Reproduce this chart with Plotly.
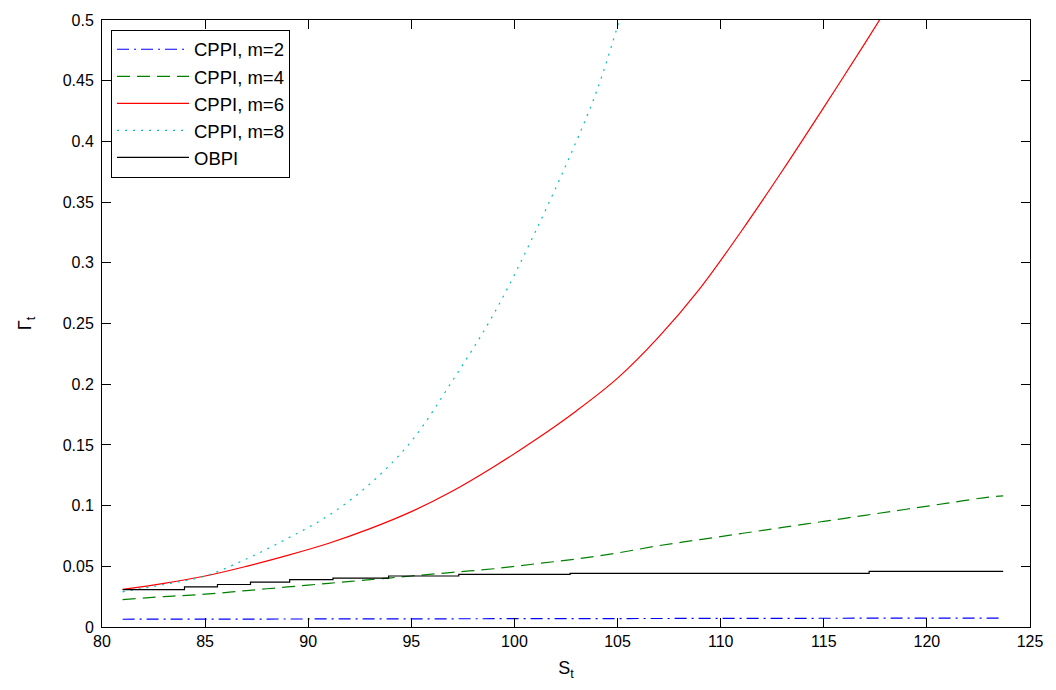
import plotly.graph_objects as go

# ---- data ----
x_m2 = [81, 90, 100, 110, 123.7]
y_m2 = [0.0064, 0.0065, 0.0068, 0.0071, 0.0074]

x_m4 = [81, 83, 85, 87, 89, 91, 93, 95, 97, 99, 101, 103, 105, 107, 109, 111,
        113, 115, 117, 119, 121, 123, 123.7]
y_m4 = [0.0225, 0.025, 0.027, 0.030, 0.033, 0.036, 0.039, 0.042, 0.045, 0.048,
        0.052, 0.056, 0.061, 0.067, 0.072, 0.077, 0.082, 0.087, 0.092, 0.097,
        0.102, 0.107, 0.108]

x_m6 = [81, 83, 85, 87, 89, 91, 93, 95, 97, 99, 101, 103, 105, 107, 109, 111,
        113, 115, 117, 118]
y_m6 = [0.031, 0.036, 0.042, 0.050, 0.059, 0.069, 0.081, 0.095, 0.112, 0.132,
        0.154, 0.178, 0.205, 0.239, 0.279, 0.326, 0.376, 0.428, 0.481, 0.508]

x_m8 = [81, 83, 85, 87, 89, 91, 93, 95, 97, 99, 101, 103, 104, 105, 105.5]
y_m8 = [0.029, 0.035, 0.042, 0.056, 0.073, 0.092, 0.118, 0.153, 0.203, 0.258,
        0.325, 0.400, 0.442, 0.495, 0.525]

x_obpi = [81, 84.0, 85.6, 87.2, 89.1, 91.2, 93.9, 97.3, 102.7, 117.2, 123.7]
y_obpi = [0.0308, 0.033, 0.035, 0.037, 0.039, 0.0403, 0.042, 0.0433, 0.0442,
          0.0458, 0.0458]

names = ["CPPI, m=2", "CPPI, m=4", "CPPI, m=6", "CPPI, m=8", "OBPI"]

FONT = "Liberation Sans, Arial, sans-serif"

fig = go.Figure()
fig.add_trace(go.Scatter(x=x_m2, y=y_m2, mode="lines", name=names[0], legendgroup="a",
                         line=dict(color="#0000FF", width=1.2, dash="12px,5px,2px,5px")))
fig.add_trace(go.Scatter(x=x_m4, y=y_m4, mode="lines", name=names[1], legendgroup="b",
                         line=dict(color="#008000", width=1.2, dash="13px,7px", shape="spline")))
fig.add_trace(go.Scatter(x=x_m6, y=y_m6, mode="lines", name=names[2], legendgroup="c",
                         line=dict(color="#FF0000", width=1.2, shape="spline")))
fig.add_trace(go.Scatter(x=x_m8, y=y_m8, mode="lines", name=names[3], legendgroup="d",
                         line=dict(color="#00BFBF", width=1.2, dash="2px,6px", shape="spline")))
fig.add_trace(go.Scatter(x=x_obpi, y=y_obpi, mode="lines", name=names[4], legendgroup="e",
                         line=dict(color="#000000", width=1.2, shape="hv")))

axis_common = dict(showgrid=False, zeroline=False, showline=True, linecolor="black",
                   linewidth=1, mirror="ticks", ticks="inside", ticklen=9,
                   tickcolor="black", tickwidth=1,
                   tickfont=dict(family=FONT, size=16, color="black"))

fig.update_xaxes(range=[80, 125], tick0=80, dtick=5,
                 title=dict(text="S<sub>t</sub>", font=dict(family=FONT, size=18, color="black"),
                            standoff=12),
                 **axis_common)
fig.update_yaxes(range=[0, 0.5], tick0=0, dtick=0.05, tickformat="~g",
                 ticklabelstandoff=4,
                 title=dict(text="Γ<sub>t</sub>", font=dict(family=FONT, size=18, color="black"),
                            standoff=26),
                 **axis_common)

fig.update_layout(
    width=1056, height=690,
    margin=dict(l=102, r=26, t=16, b=63),
    paper_bgcolor="white", plot_bgcolor="white",
    showlegend=True,
    legend=dict(x=0.0097, y=0.984, xanchor="left", yanchor="top",
                bgcolor="white", bordercolor="black", borderwidth=1,
                font=dict(family=FONT, size=18.5, color="black"),
                itemwidth=72, tracegroupgap=0),
)

fig.write_html("out.html", config={"displayModeBar": False},
               post_script="document.body.style.margin='0';")
